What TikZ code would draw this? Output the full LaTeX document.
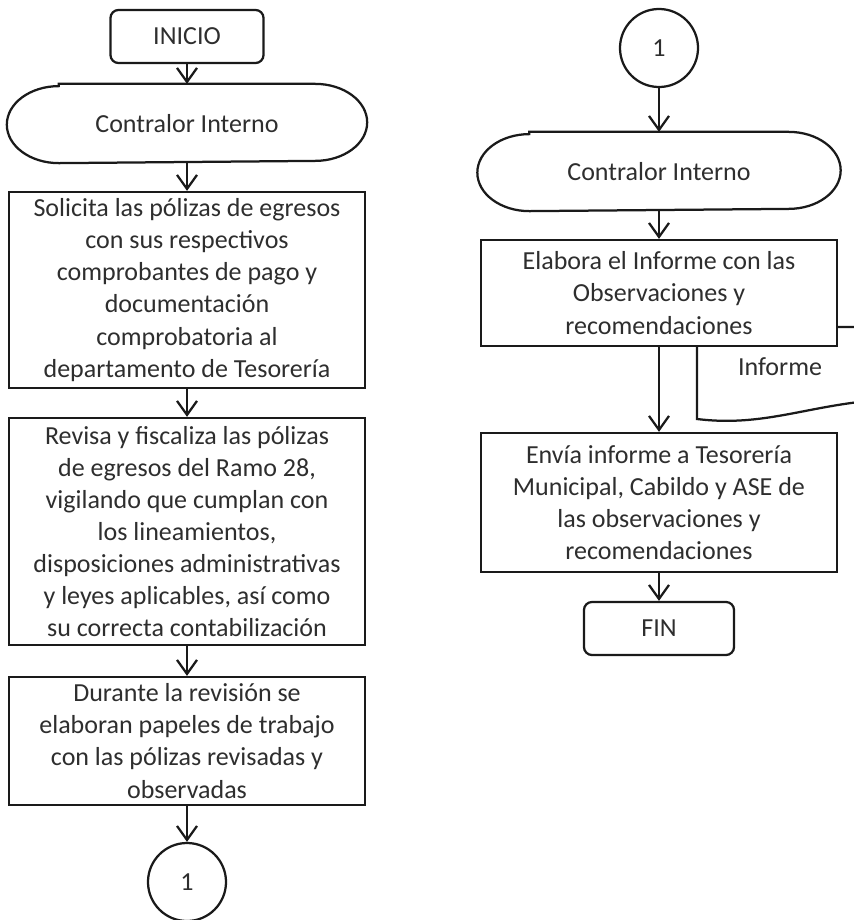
\documentclass[tikz,border=0pt]{standalone}
\usepackage{fontspec}
\setmainfont{Carlito}
\usetikzlibrary{arrows.meta, positioning}
\definecolor{txt}{HTML}{2E2E2E}
\definecolor{ln}{HTML}{1A1A1A}

\begin{document}
\begin{tikzpicture}[
    x=0.025cm, y=-0.025cm,
    line width=1.6pt,
    every node/.style={font=\fontsize{18.5pt}{22.8pt}\selectfont, text=txt, align=center},
    proc/.style={rectangle, draw=ln, fill=white, minimum width=8.9cm, inner sep=2pt},
    start/.style={rectangle, draw=ln, rounded corners=0.2cm, minimum width=3.825cm, minimum height=1.325cm},
    term/.style={
        rectangle, minimum width=8.95cm, minimum height=1.925cm,
        append after command={\pgfextra{
            \draw[ln] ([xshift=1.3cm]\tikzlastnode.north west) -- ([xshift=-1.3cm]\tikzlastnode.north east)
                arc[start angle=90, end angle=-90, x radius=1.3cm, y radius=0.9625cm]
                -- ([xshift=1.3cm]\tikzlastnode.south west)
                arc[start angle=270, end angle=90, x radius=1.3cm, y radius=0.9625cm] -- cycle;}}
    },
    conn/.style={circle, draw=ln, minimum size=1.95cm, inner sep=0pt},
    arr/.style={draw=ln, -{Straight Barb[length=0.35cm, width=0.5cm]}}
]
\useasboundingbox (0,0) rectangle (854,920);
\clip (0,0) rectangle (854,920);

% --- left column ---
\node[start] (ini) at (187, 36.5) {INICIO};
\node[term] (ci1) at (187, 123.5) {Contralor Interno};
\node[proc, minimum height=4.9cm] (sol) at (187, 290) {
    Solicita las pólizas de egresos\\
    con sus respectivos\\
    comprobantes de pago y\\
    documentación\\
    comprobatoria al\\
    departamento de Tesorería};
\node[proc, minimum height=5.675cm] (rev) at (187, 531.5) {
    Revisa y fiscaliza las pólizas\\
    de egresos del Ramo 28,\\
    vigilando que cumplan con\\
    los lineamientos,\\
    disposiciones administrativas\\
    y leyes aplicables, así como\\
    su correcta contabilización};
\node[proc, minimum height=3.2cm] (dur) at (187, 741) {
    Durante la revisión se\\
    elaboran papeles de trabajo\\
    con las pólizas revisadas y\\
    observadas};
\node[conn] (c1) at (187, 882) {1};

% --- right column ---
\node[conn] (c2) at (659, 48) {1};
\node[term, minimum width=9.025cm] (ci2) at (659, 171.5) {Contralor Interno};

% document shape (runs off the right edge)
\draw[ln, fill=white] (697, 327) -- (900, 327) -- (900, 399)
    .. controls (815, 401) and (770, 428) .. (697, 419) -- cycle;
\node (inf) at (780, 367) {Informe};

\node[proc, minimum height=2.65cm] (ela) at (659, 293) {
    Elabora el Informe con las\\
    Observaciones y\\
    recomendaciones};
\node[proc, minimum height=3.475cm] (env) at (659, 502.5) {
    Envía informe a Tesorería\\
    Municipal, Cabildo y ASE de\\
    las observaciones y\\
    recomendaciones};
\node[start, minimum width=3.75cm] (fin) at (659, 628.5) {FIN};

% --- arrows ---
\draw[arr] (ini) -- (ci1);
\draw[arr] (ci1) -- (sol);
\draw[arr] (sol) -- (rev);
\draw[arr] (rev) -- (dur);
\draw[arr] (dur) -- (c1);
\draw[arr] (c2) -- (ci2);
\draw[arr] (ci2) -- (ela);
\draw[arr] (ela) -- (env);
\draw[arr] (env) -- (fin);

\end{tikzpicture}
\end{document}
